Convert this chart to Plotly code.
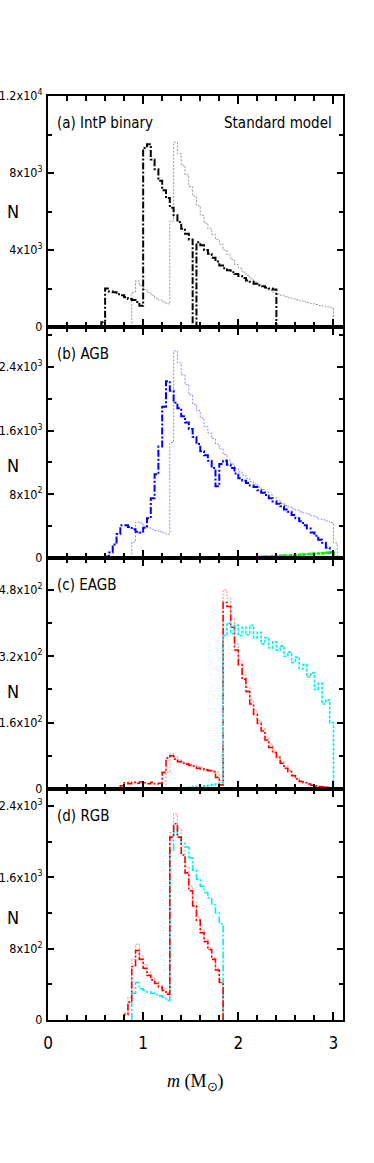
import plotly.graph_objects as go
from plotly.subplots import make_subplots

BIN = 0.04  # histogram bin width in M_sun

# ---------------- panel (a) IntP binary ----------------
a_dash_start = 0.56
a_dash = [250, 2000, 1850, 1800, 1700, 1650, 1550, 1450, 1400, 1300, 1100,
          9300, 9500, 8700, 8200, 7600, 7100, 6700, 6200, 5800, 5450, 5100, 4850, 4550,
          0, 4400, 4250, 4000, 3800, 3600, 3400, 3200, 3050, 2950, 2850, 2750, 2650,
          2550, 2420, 2350, 2250, 2170, 2120, 2050, 2000, 1950]
a_dot_start = 0.88
a_dot = [1800, 2400, 2150, 1950, 1800, 1650, 1500, 1400, 1300, 1200,
         5500, 9600, 9000, 8400, 7900, 7300, 6800, 6300, 5800, 5400, 5100, 4800, 4550,
         4300, 4000, 3750, 3500, 3250, 3050, 2850, 2680, 2500, 2350, 2200, 2100, 2000,
         1900, 1800, 1720, 1650, 1580, 1520, 1460, 1410, 1360, 1310, 1260, 1210, 1170,
         1120, 1080, 1040, 1000]

# ---------------- panel (b) AGB ----------------
b_dash_start = 0.60
b_dash = [20, 70, 170, 300, 410, 410, 390, 360, 330, 320, 380, 500, 750, 1050, 1400,
          1900, 2220, 2100, 1950, 1880, 1780, 1700, 1620, 1520, 1430, 1340, 1290, 1220,
          1130, 900, 1180, 1220, 1170, 1130, 1060, 1000, 970, 940, 910, 890, 850, 820,
          790, 750, 710, 680, 650, 610, 580, 540, 500, 460, 410, 370, 320, 280, 230,
          190, 130, 70]
b_dot_start = 0.88
b_dot = [200, 450, 440, 400, 380, 360, 345, 330, 315, 300, 1450, 2600, 2450, 2300,
         2180, 2050, 1930, 1850, 1760, 1650, 1570, 1500, 1430, 1370, 1300, 1230, 1180,
         1120, 1080, 1040, 1000, 960, 930, 890, 860, 830, 790, 760, 720, 690, 660, 640,
         620, 600, 580, 565, 550, 530, 515, 490, 480, 465, 445, 190]
b_green_start = 2.08
b_green = [5, 8, 10, 12, 15, 18, 20, 22, 25, 28, 30, 32, 35, 38, 42, 45, 48, 52, 55,
           58, 60, 65, 70]

# ---------------- panel (c) EAGB ----------------
c_red_start = 0.76
c_red = [8, 15, 13, 16, 14, 17, 15, 13, 16, 12, 14, 40, 75, 80, 72, 66, 62, 60, 57,
         55, 50, 48, 46, 44, 42, 28, 10, 450, 440, 390, 335, 300, 265, 235, 205, 180,
         158, 140, 118, 100, 88, 76, 62, 50, 42, 32, 24, 18, 15, 12, 9, 7, 6, 5, 4, 3]
c_pink_start = 1.24
c_pink = [40, 85, 78, 70, 66, 63, 60, 57, 54, 52, 48, 46, 44, 40, 20, 480, 460, 410,
          350, 310, 275, 245, 215, 190, 165, 145, 125, 108, 93, 80, 66, 55, 45, 35,
          27, 20, 16, 13, 10, 8, 6, 5, 4, 3]
c_cyan_start = 1.48
c_cyan = [4, 6, 5, 8, 7, 9, 10, 12, 15, 370, 400, 375, 395, 370, 390, 372, 395, 365,
          378, 350, 365, 340, 355, 335, 345, 320, 330, 305, 318, 290, 300, 270, 280,
          240, 255, 205, 215, 160]

# ---------------- panel (d) RGB ----------------
d_red_start = 0.80
d_red = [60, 200, 600, 780, 680, 580, 500, 450, 410, 370, 330, 290, 2050, 2200, 2050,
         1850, 1650, 1450, 1280, 1120, 980, 880, 790, 680, 560, 420]
d_pink_start = 0.80
d_pink = [80, 250, 680, 850, 720, 620, 530, 480, 430, 390, 350, 310, 2100, 2310, 2150,
          1950, 1720, 1500, 1320, 1150, 1010, 900, 810, 700, 580, 450]
d_cyan_start = 0.88
d_cyan = [300, 420, 350, 330, 315, 300, 285, 270, 255, 220, 1900, 2150, 2050, 1980,
          1940, 1820, 1680, 1580, 1500, 1430, 1370, 1290, 1200, 1080]

# y tick labels
a_ticks = [0, 4000, 8000, 12000]
a_text = ["0", "4x10<sup>3</sup>", "8x10<sup>3</sup>", "1.2x10<sup>4</sup>"]
b_ticks = [0, 800, 1600, 2400]
b_text = ["0", "8x10<sup>2</sup>", "1.6x10<sup>3</sup>", "2.4x10<sup>3</sup>"]
c_ticks = [0, 160, 320, 480]
c_text = ["0", "1.6x10<sup>2</sup>", "3.2x10<sup>2</sup>", "4.8x10<sup>2</sup>"]
d_ticks = [0, 800, 1600, 2400]
d_text = ["0", "8x10<sup>2</sup>", "1.6x10<sup>3</sup>", "2.4x10<sup>3</sup>"]
x_ticks = [0, 1, 2, 3]
x_text = ["0", "1", "2", "3"]

panel_labels = ["(a) IntP binary", "(b) AGB", "(c) EAGB", "(d) RGB"]
n_label_pos = [0.5, 0.40, 0.42, 0.445]

FONT = "DejaVu Sans Condensed, Liberation Sans, Arial, sans-serif"


def step(start, vals):
    edges = [round(start + i * BIN, 4) for i in range(len(vals) + 1)]
    # hv shape: (e0,0)->(e0,v0)->...->(en,0)
    xs = [edges[0]] + edges
    ys = [0] + list(vals) + [0]
    return xs, ys


fig = make_subplots(rows=4, cols=1, shared_xaxes=True, vertical_spacing=0)


def add(row, start, vals, color, width, dash):
    xs, ys = step(start, vals)
    fig.add_trace(go.Scatter(x=xs, y=ys, mode="lines", line_shape="hv",
                             line=dict(color=color, width=width, dash=dash),
                             showlegend=False, hoverinfo="skip"), row=row, col=1)


DASHDOT = "7px,2px,2px,2px"
DOT = "2px,1.5px"

add(1, a_dot_start, a_dot, "#9a9a9a", 1, DOT)
add(1, a_dash_start, a_dash, "black", 2, DASHDOT)

add(2, b_dot_start, b_dot, "#8c8cff", 1, DOT)
add(2, b_dash_start, b_dash, "#0000ff", 2, DASHDOT)
add(2, b_green_start, b_green, "#00ee00", 2.5, "4px,1px")

add(3, c_pink_start, c_pink, "#ff9c9c", 1.2, DOT)
add(3, c_red_start, c_red, "#ff0000", 1.6, DASHDOT)
add(3, c_cyan_start, c_cyan, "#00f0f0", 1.6, "3px,1.5px")

add(4, d_pink_start, d_pink, "#ff9c9c", 1.2, DOT)
add(4, d_cyan_start, d_cyan, "#00f0f0", 1.6, DASHDOT)
add(4, d_red_start, d_red, "#ff0000", 1.6, DASHDOT)

yinfo = [(a_ticks, a_text, 12000, 2000), (b_ticks, b_text, 2900, 400),
         (c_ticks, c_text, 557, 80), (d_ticks, d_text, 2590, 400)]

for i, (tv, tt, top, minor) in enumerate(yinfo, start=1):
    fig.update_yaxes(row=i, col=1, range=[0, top], tickmode="array", tickvals=tv,
                     ticktext=tt, ticks="inside", ticklen=6, tickwidth=1.5,
                     tickcolor="black", showline=True, linewidth=2, linecolor="black",
                     mirror="ticks", showgrid=False, zeroline=False, automargin=False,
                     ticklabelstandoff=1,
                     tickfont=dict(family=FONT, size=12.5, color="black"),
                     minor=dict(tickmode="linear", tick0=0, dtick=minor, ticks="inside",
                                ticklen=4, tickwidth=1.5, tickcolor="black"))
    fig.update_xaxes(row=i, col=1, range=[0, 3.1], tickmode="array", tickvals=x_ticks,
                     ticktext=x_text, ticks="inside", ticklen=8, tickwidth=1.5,
                     tickcolor="black", showline=True, linewidth=2, linecolor="black",
                     mirror="ticks", showgrid=False, zeroline=False, automargin=False,
                     ticklabelstandoff=7,
                     tickfont=dict(family=FONT, size=17, color="black"),
                     minor=dict(tickmode="linear", tick0=0, dtick=0.2, ticks="inside",
                                ticklen=5, tickwidth=1.5, tickcolor="black"))
    yref = "y" if i == 1 else f"y{i}"
    xref = "x" if i == 1 else f"x{i}"
    fig.add_annotation(text=panel_labels[i - 1], xref=f"{xref} domain",
                       yref=f"{yref} domain", x=0.025, y=0.885, xanchor="left",
                       yanchor="middle", showarrow=False,
                       font=dict(family=FONT, size=15, color="black"))
    fig.add_annotation(text="N", xref="paper", yref=f"{yref} domain",
                       x=-0.118, y=n_label_pos[i - 1], xanchor="center",
                       yanchor="middle", showarrow=False,
                       font=dict(family=FONT, size=18, color="black"))

fig.add_annotation(text="Standard model", xref="x domain", yref="y domain",
                   x=0.97, y=0.885, xanchor="right", yanchor="middle", showarrow=False,
                   font=dict(family=FONT, size=15, color="black"))

fig.add_annotation(text="<i>m</i> (M<sub>⊙</sub>)", xref="paper", yref="paper",
                   x=0.5, y=-0.068, xanchor="center", yanchor="middle", showarrow=False,
                   font=dict(family="Liberation Serif, serif", size=18, color="black"))

fig.update_layout(width=374, height=1163, margin=dict(l=48, r=31, t=96, b=143),
                  paper_bgcolor="white", plot_bgcolor="white", showlegend=False)

fig.write_html("out.html", config={"displayModeBar": False},
               post_script="document.body.style.margin='0';")
